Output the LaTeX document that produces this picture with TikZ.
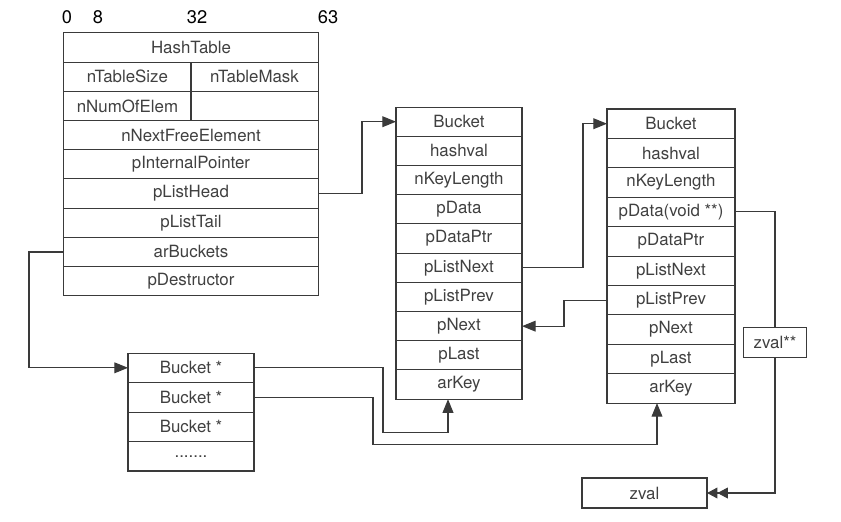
\documentclass[tikz,border=0pt]{standalone}
\usepackage{fontspec}
\setmainfont{TeX Gyre Heros}
\usetikzlibrary{arrows.meta,positioning}

\definecolor{linegray}{HTML}{3A3A3A}
\definecolor{textgray}{HTML}{404040}

\begin{document}
\begin{tikzpicture}[
    x=0.025cm, y=-0.025cm,
    >={Triangle[length=3.4mm, width=2.7mm]},
    cell/.style={
        rectangle, draw=linegray, line width=0.75pt,
        minimum height=7.3mm, inner sep=0pt, outer sep=0pt,
        text=textgray, font=\fontsize{12}{14}\selectfont
    },
    wide/.style={cell, minimum width=63.5mm},
    half/.style={cell, minimum width=31.75mm},
    bucket/.style={cell, minimum width=31.5mm},
    bits/.style={font=\fontsize{13}{15}\selectfont},
    arr/.style={->, draw=linegray, line width=0.8pt},
    dblarr/.style={-{Triangle[length=2.6mm, width=2.7mm]Triangle[length=2.6mm, width=2.7mm]},
        draw=linegray, line width=0.8pt}
]
\useasboundingbox (0,0) rectangle (841,521);
% bit offsets
\node[bits] (bit0) at (67,17) {0};
\node[bits] (bit8) at (98,17) {8};
\node[bits] (bit32) at (197,17) {32};
\node[bits] (bit63) at (328,17) {63};
% HashTable
\node[wide] (ht) at (191,47.5) {HashTable};
\node[half, below right=0pt and 0pt of ht.south west] (htsize) {nTableSize};
\node[half, right=0pt of htsize] (htmask) {nTableMask};
\node[half, below=0pt of htsize] (htnum) {nNumOfElem};
\node[half, below=0pt of htmask] (htempty) {};
\node[wide, below=0pt of htnum.south east] (htnext) {nNextFreeElement};
\node[wide, below=0pt of htnext] (htint) {pInternalPointer};
\node[wide, below=0pt of htint] (hthead) {pListHead};
\node[wide, below=0pt of hthead] (httail) {pListTail};
\node[wide, below=0pt of httail] (htbuckets) {arBuckets};
\node[wide, below=0pt of htbuckets] (htdestr) {pDestructor};
% first Bucket
\node[bucket] (b1) at (459,121.7) {Bucket};
\node[bucket, below=0pt of b1] (b1hash) {hashval};
\node[bucket, below=0pt of b1hash] (b1klen) {nKeyLength};
\node[bucket, below=0pt of b1klen] (b1data) {pData};
\node[bucket, below=0pt of b1data] (b1ptr) {pDataPtr};
\node[bucket, below=0pt of b1ptr] (b1lnext) {pListNext};
\node[bucket, below=0pt of b1lnext] (b1lprev) {pListPrev};
\node[bucket, below=0pt of b1lprev] (b1next) {pNext};
\node[bucket, below=0pt of b1next] (b1last) {pLast};
\node[bucket, below=0pt of b1last] (b1key) {arKey};
% second Bucket
\node[bucket, minimum width=32mm, minimum height=7.35mm] (b2) at (671,123.7) {Bucket};
\node[bucket, minimum width=32mm, minimum height=7.35mm, below=0pt of b2] (b2hash) {hashval};
\node[bucket, minimum width=32mm, minimum height=7.35mm, below=0pt of b2hash] (b2klen) {nKeyLength};
\node[bucket, minimum width=32mm, minimum height=7.35mm, below=0pt of b2klen] (b2data) {pData(void **)};
\node[bucket, minimum width=32mm, minimum height=7.35mm, below=0pt of b2data] (b2ptr) {pDataPtr};
\node[bucket, minimum width=32mm, minimum height=7.35mm, below=0pt of b2ptr] (b2lnext) {pListNext};
\node[bucket, minimum width=32mm, minimum height=7.35mm, below=0pt of b2lnext] (b2lprev) {pListPrev};
\node[bucket, minimum width=32mm, minimum height=7.35mm, below=0pt of b2lprev] (b2next) {pNext};
\node[bucket, minimum width=32mm, minimum height=7.35mm, below=0pt of b2next] (b2last) {pLast};
\node[bucket, minimum width=32mm, minimum height=7.35mm, below=0pt of b2last] (b2key) {arKey};
% arBuckets array
\node[bucket, minimum height=7.37mm] (arr1) at (191,367.8) {Bucket *};
\node[bucket, minimum height=7.37mm, below=0pt of arr1] (arr2) {Bucket *};
\node[bucket, minimum height=7.37mm, below=0pt of arr2] (arr3) {Bucket *};
\node[bucket, minimum height=7.37mm, below=0pt of arr3] (arr4) {.......};
% zval
\node[cell, minimum width=31.25mm, minimum height=7.5mm] (zval) at (644.5,493) {zval};
% pointers
\draw[arr] (hthead.east) -- ++(44,0) |- (b1.west);
\draw[arr] (b1lnext.east) -- ++(61,0) |- (b2.west);
\draw[arr] (b2lprev.west) -- ++(-43,0) |- (b1next.east);
\draw[arr] (htbuckets.west) -- ++(-35,0) |- (arr1.west);
\draw[arr] (arr1.east) -- ++(129,0) -- ++(0,65) -| ([xshift=-2.75mm]b1key.south);
\draw[arr] (arr2.east) -- ++(119,0) -- ++(0,47) -| ([xshift=-3.5mm]b2key.south);
\draw[dblarr] (b2data.east) -- ++(40,0) |- (zval.east);
\node[cell, fill=white, minimum width=15.75mm] (zvalpp) at (775,342.5) {zval**};
\end{tikzpicture}
\end{document}
